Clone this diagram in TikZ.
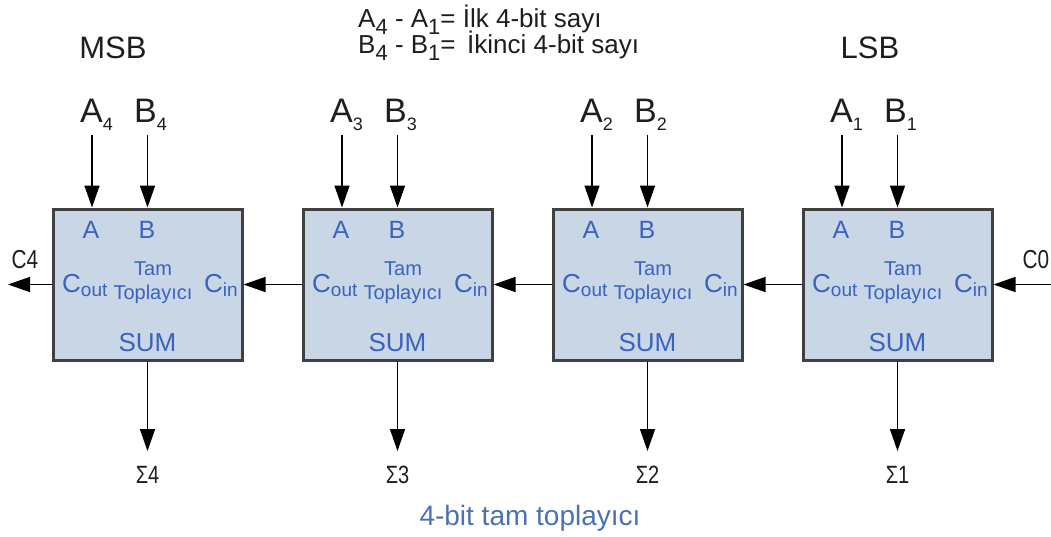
\documentclass[tikz,border=0pt]{standalone}
\usepackage{fontspec}
\setmainfont{Liberation Sans}
\newfontfamily\narrowfont{Liberation Sans}[FakeStretch=0.8]
\usetikzlibrary{arrows.meta}

\definecolor{boxfill}{RGB}{200,214,230}
\definecolor{boxline}{RGB}{64,64,64}
\definecolor{inblue}{RGB}{58,98,192}
\definecolor{capblue}{RGB}{74,114,176}
\definecolor{ink}{RGB}{30,30,30}

\newcommand\setsize[1]{\fontsize{#1}{#1}\selectfont}
\newcommand\lsub[3]{\raisebox{-#1}{\setsize{#2}#3}}

\tikzset{
  fabox/.style={draw=boxline, line width=3pt, fill=boxfill,
    minimum width=189pt, minimum height=151pt, inner sep=0pt},
  wire/.style={line width=1.5pt, -{Triangle[length=22pt,width=15pt]}},
  inlbl/.style={text=inblue, inner sep=0pt, anchor=base},
  txt/.style={text=ink, inner sep=0pt, anchor=base}
}

\begin{document}
\begin{tikzpicture}[x=1pt,y=-1pt]
\useasboundingbox (0,0) rectangle (1051,536);

% header
\node[txt, anchor=base west, font=\setsize{26}] (hdra) at (358,27)
  {A\lsub{7pt}{22}{4} - A\lsub{7pt}{22}{1}= İlk 4-bit sayı};
\node[txt, anchor=base west, font=\setsize{26}] (hdrb) at (358,53)
  {B\lsub{7pt}{22}{4} - B\lsub{7pt}{22}{1}= \,İkinci 4-bit sayı};
\node[txt, font=\setsize{31}] (msb) at (113,58) {MSB};
\node[txt, font=\setsize{31}] (lsb) at (870,58) {LSB};

% full adders
\foreach \i in {1,...,4}{
  \pgfmathsetmacro\L{53+250*(4-\i)}
  \node[fabox] (fa\i) at (\L+94.5,284.5) {};
  \node[inlbl, font=\setsize{25}] at (\L+38,238) {A};
  \node[inlbl, font=\setsize{25}] at (\L+94,238) {B};
  \node[inlbl, font=\setsize{20}] at (\L+100,275) {Tam};
  \node[inlbl, font=\setsize{20}] at (\L+100,299) {Toplayıcı};
  \node[inlbl, anchor=base west, font=\setsize{26}] at (\L+9,292) {C\lsub{4pt}{19}{out}};
  \node[inlbl, anchor=base west, font=\setsize{26}] at (\L+151,292) {C\lsub{4pt}{19}{in}};
  \node[inlbl, font=\setsize{26}] at (\L+94.5,351) {SUM};

  % inputs and sum
  \node[txt, anchor=base west, font=\setsize{34}] (la\i) at (\L+27,122) {A\lsub{8pt}{18}{\i}};
  \node[txt, anchor=base west, font=\setsize{34}] (lb\i) at (\L+81,122) {B\lsub{8pt}{18}{\i}};
  \coordinate (ain\i) at (\L+39,135);
  \coordinate (bin\i) at (\L+94.5,135);
  \coordinate (sout\i) at (\L+94.5,451);
  \draw[wire] (ain\i) -- (ain\i |- fa\i.north);
  \draw[wire] (bin\i) -- (bin\i |- fa\i.north);
  \draw[wire] (fa\i.south) -- (sout\i);
  \node[txt, font=\narrowfont\setsize{25}] (sig\i) at (\L+94.5,483) {Σ\i};
}

% carries
\foreach \lo/\hi in {1/2,2/3,3/4}
  \draw[wire] (fa\lo.west) -- (fa\hi.east);
\coordinate (cout) at (8,284.5);
\coordinate (cin) at (1051,284.5);
\draw[wire] (fa4.west) -- (cout);
\draw[wire] (cin) -- (fa1.east);
\node[txt, font=\narrowfont\setsize{26}] (c4) at (25,268) {C4};
\node[txt, font=\narrowfont\setsize{26}] (c0) at (1036,268) {C0};

% caption
\node[txt, text=capblue, font=\setsize{28}] (cap) at (530,525) {4-bit tam toplayıcı};
\end{tikzpicture}
\end{document}
